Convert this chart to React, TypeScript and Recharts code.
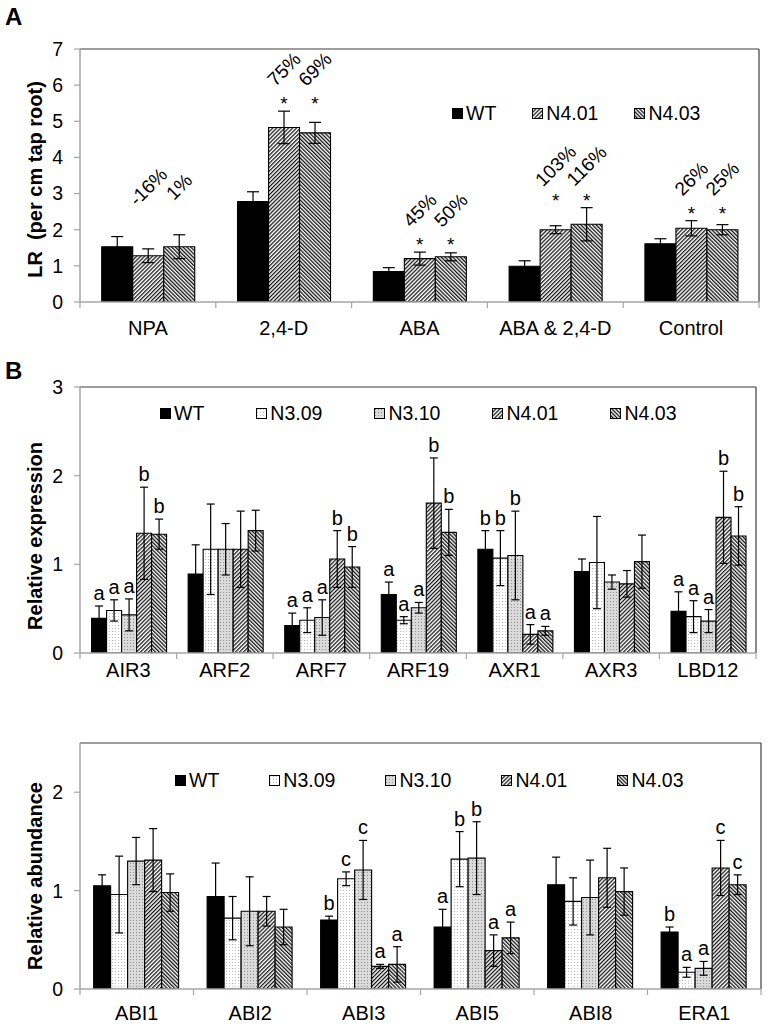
import React from "react";
import { BarChart, Bar, XAxis, YAxis, ErrorBar, LabelList, ReferenceLine, Legend } from "recharts";

const FONT = "'Liberation Sans', Arial, Helvetica, sans-serif";
const AXIS_GRAY = "#a6a6a6";
const FRAME = "#3c3c3c";

// ---------- Panel A: lateral roots ----------
const treatments = ["NPA", "2,4-D", "ABA", "ABA & 2,4-D", "Control"];
const lrWT = [1.53, 2.78, 0.84, 0.99, 1.61];
const lrWTErr = [0.28, 0.27, 0.11, 0.15, 0.14];
const lrN401 = [1.28, 4.83, 1.2, 2.0, 2.04];
const lrN401Err = [0.19, 0.45, 0.18, 0.11, 0.21];
const lrN403 = [1.53, 4.68, 1.25, 2.15, 2.0];
const lrN403Err = [0.33, 0.29, 0.11, 0.46, 0.14];
const pctN401 = ["-16%", "75%", "45%", "103%", "26%"];
const pctN403 = ["1%", "69%", "50%", "116%", "25%"];
const starN401 = ["", "*", "*", "*", "*"];
const starN403 = ["", "*", "*", "*", "*"];
const lrTicks = [0, 1, 2, 3, 4, 5, 6, 7];

// ---------- Panel B top: auxin genes ----------
const auxGenes = ["AIR3", "ARF2", "ARF7", "ARF19", "AXR1", "AXR3", "LBD12"];
const auxWT = [0.39, 0.89, 0.31, 0.66, 1.17, 0.92, 0.47];
const auxWTErr = [0.14, 0.33, 0.14, 0.14, 0.21, 0.14, 0.22];
const auxN309 = [0.48, 1.17, 0.37, 0.37, 1.07, 1.02, 0.41];
const auxN309Err = [0.12, 0.51, 0.14, 0.04, 0.31, 0.52, 0.18];
const auxN310 = [0.43, 1.17, 0.4, 0.51, 1.1, 0.8, 0.36];
const auxN310Err = [0.18, 0.29, 0.2, 0.06, 0.5, 0.08, 0.13];
const auxN401 = [1.35, 1.17, 1.06, 1.69, 0.21, 0.78, 1.53];
const auxN401Err = [0.52, 0.43, 0.32, 0.51, 0.11, 0.15, 0.52];
const auxN403 = [1.34, 1.38, 0.97, 1.36, 0.25, 1.03, 1.32];
const auxN403Err = [0.17, 0.23, 0.23, 0.26, 0.05, 0.3, 0.33];
const auxLetWT = ["a", "", "a", "a", "b", "", "a"];
const auxLetN309 = ["a", "", "a", "a", "b", "", "a"];
const auxLetN310 = ["a", "", "a", "a", "b", "", "a"];
const auxLetN401 = ["b", "", "b", "b", "a", "", "b"];
const auxLetN403 = ["b", "", "b", "b", "a", "", "b"];
const auxTicks = [0, 1, 2, 3];

// ---------- Panel B bottom: ABA genes ----------
const abaGenes = ["ABI1", "ABI2", "ABI3", "ABI5", "ABI8", "ERA1"];
const abaWT = [1.05, 0.94, 0.7, 0.63, 1.06, 0.58];
const abaWTErr = [0.11, 0.34, 0.04, 0.18, 0.28, 0.05];
const abaN309 = [0.96, 0.72, 1.12, 1.32, 0.89, 0.17];
const abaN309Err = [0.39, 0.22, 0.07, 0.28, 0.24, 0.05];
const abaN310 = [1.3, 0.79, 1.21, 1.33, 0.93, 0.21];
const abaN310Err = [0.24, 0.35, 0.3, 0.37, 0.38, 0.07];
const abaN401 = [1.31, 0.79, 0.23, 0.39, 1.13, 1.23];
const abaN401Err = [0.32, 0.15, 0.02, 0.16, 0.3, 0.28];
const abaN403 = [0.98, 0.63, 0.25, 0.52, 0.99, 1.06];
const abaN403Err = [0.19, 0.18, 0.18, 0.16, 0.24, 0.1];
const abaLetWT = ["", "", "b", "a", "", "b"];
const abaLetN309 = ["", "", "c", "b", "", "a"];
const abaLetN310 = ["", "", "c", "b", "", "a"];
const abaLetN401 = ["", "", "a", "a", "", "c"];
const abaLetN403 = ["", "", "a", "a", "", "c"];
const abaTicks = [0, 1, 2];

const FILL_WT = "#000";
const FILL_N309 = "url(#dotsLight)";
const FILL_N310 = "url(#dotsGray)";
const FILL_N401 = "url(#hatchFwd)";
const FILL_N403 = "url(#hatchBack)";

type Series = {
  key: string;
  name: string;
  fill: string;
  values: number[];
  errors: number[];
  letters?: string[];
  pct?: string[];
  stars?: string[];
  other?: Series;
};

const sWT_A: Series = { key: "wt", name: "WT", fill: FILL_WT, values: lrWT, errors: lrWTErr };
const sN403_A: Series = { key: "n403", name: "N4.03", fill: FILL_N403, values: lrN403, errors: lrN403Err, pct: pctN403, stars: starN403 };
const sN401_A: Series = { key: "n401", name: "N4.01", fill: FILL_N401, values: lrN401, errors: lrN401Err, pct: pctN401, stars: starN401 };
sN401_A.other = sN403_A;
sN403_A.other = sN401_A;
const seriesA = [sWT_A, sN401_A, sN403_A];

const seriesAux: Series[] = [
  { key: "wt", name: "WT", fill: FILL_WT, values: auxWT, errors: auxWTErr, letters: auxLetWT },
  { key: "n309", name: "N3.09", fill: FILL_N309, values: auxN309, errors: auxN309Err, letters: auxLetN309 },
  { key: "n310", name: "N3.10", fill: FILL_N310, values: auxN310, errors: auxN310Err, letters: auxLetN310 },
  { key: "n401", name: "N4.01", fill: FILL_N401, values: auxN401, errors: auxN401Err, letters: auxLetN401 },
  { key: "n403", name: "N4.03", fill: FILL_N403, values: auxN403, errors: auxN403Err, letters: auxLetN403 },
];

const seriesAba: Series[] = [
  { key: "wt", name: "WT", fill: FILL_WT, values: abaWT, errors: abaWTErr, letters: abaLetWT },
  { key: "n309", name: "N3.09", fill: FILL_N309, values: abaN309, errors: abaN309Err, letters: abaLetN309 },
  { key: "n310", name: "N3.10", fill: FILL_N310, values: abaN310, errors: abaN310Err, letters: abaLetN310 },
  { key: "n401", name: "N4.01", fill: FILL_N401, values: abaN401, errors: abaN401Err, letters: abaLetN401 },
  { key: "n403", name: "N4.03", fill: FILL_N403, values: abaN403, errors: abaN403Err, letters: abaLetN403 },
];

function buildRows(cats: string[], series: Series[]) {
  return cats.map((c, i) => {
    const r: any = { cat: c };
    series.forEach((s) => {
      r[s.key] = s.values[i];
      r[s.key + "Err"] = s.errors[i];
    });
    return r;
  });
}

function getBox(p: any) {
  const vb = p.viewBox && typeof p.viewBox.x === "number" && typeof p.viewBox.width === "number" ? p.viewBox : p;
  return { x: Number(vb.x), y: Number(vb.y), w: Number(vb.width), h: Number(vb.height) };
}

function letterLabel(s: Series, lp: any) {
  const i = lp.index;
  const letter = s.letters ? s.letters[i] : "";
  if (!letter) return null;
  const b = getBox(lp);
  const v = s.values[i];
  const e = s.errors[i];
  const ppu = b.h / v;
  const errTop = b.y + b.h - (v + e) * ppu;
  const cx = b.x + b.w / 2;
  return (
    <text x={cx} y={errTop - 6} textAnchor="middle" fontSize={20} fill="#000">
      {letter}
    </text>
  );
}

function annotLabel(s: Series, lp: any) {
  const i = lp.index;
  if (!s.pct || !s.other) return null;
  const b = getBox(lp);
  const v = s.values[i];
  const ppu = b.h / v;
  const base = b.y + b.h;
  const topMine = base - (v + s.errors[i]) * ppu;
  const o = s.other;
  const topOther = base - (o.values[i] + o.errors[i]) * ppu;
  const groupTop = Math.min(topMine, topOther);
  const cx = b.x + b.w / 2;
  const star = s.stars ? s.stars[i] : "";
  const starCenter = groupTop - 11;
  const pctY = star ? starCenter - 31 : groupTop - 48;
  return (
    <g>
      {star ? (
        <text x={cx} y={starCenter + 10} textAnchor="middle" fontSize={19} fill="#000">
          {star}
        </text>
      ) : null}
      <text
        x={cx}
        y={pctY}
        textAnchor="middle"
        dominantBaseline="central"
        transform={`rotate(-45 ${cx} ${pctY})`}
        fontSize={19}
        fill="#000"
      >
        {s.pct[i]}
      </text>
    </g>
  );
}

function CategoryTick(props: any) {
  const { x, y, payload, index, count, half, tickSize, tickMargin } = props;
  const off = payload && typeof payload.offset === "number" && payload.offset > 0 ? payload.offset : half;
  const axisY = y - tickSize - tickMargin;
  return (
    <g>
      <line x1={x - off} x2={x - off} y1={axisY} y2={axisY + tickSize} stroke={AXIS_GRAY} strokeWidth={1.2} />
      {index === count - 1 ? (
        <line x1={x + off} x2={x + off} y1={axisY} y2={axisY + tickSize} stroke={AXIS_GRAY} strokeWidth={1.2} />
      ) : null}
      <text x={x} y={y} dy="0.71em" textAnchor="middle" fontSize={20} fill="#000">
        {payload.value}
      </text>
    </g>
  );
}

function YTitle(props: any) {
  const vb = props.viewBox || { x: 20, y: 0, width: 60, height: 0 };
  const cx = vb.x + 15;
  const cy = vb.y + vb.height / 2 + (props.shift || 0);
  return (
    <text
      x={cx}
      y={cy}
      transform={`rotate(-90 ${cx} ${cy})`}
      textAnchor="middle"
      dominantBaseline="central"
      fontSize={20}
      fontWeight="bold"
      fill="#000"
      style={{ whiteSpace: "pre" }}
    >
      {props.text}
    </text>
  );
}

function LegendRow({ series, gap }: { series: Series[]; gap: number }) {
  return (
    <div
      style={{
        display: "flex",
        alignItems: "center",
        gap,
        fontSize: 19.5,
        lineHeight: "22px",
        whiteSpace: "nowrap",
        color: "#000",
        fontFamily: FONT,
      }}
    >
      {series.map((s) => (
        <div key={s.key} style={{ display: "flex", alignItems: "center" }}>
          <svg width={11} height={11} style={{ marginRight: 3, display: "block" }}>
            <rect x={0.5} y={0.5} width={10} height={10} fill={s.fill} stroke="#000" strokeWidth={1} />
          </svg>
          <span>{s.name}</span>
        </div>
      ))}
    </div>
  );
}

type PanelProps = {
  top: number;
  height: number;
  margin: { top: number; right: number; bottom: number; left: number };
  cats: string[];
  series: Series[];
  yMax: number;
  yTicks: number[];
  yLabel: string;
  yLabelShift: number;
  tickMargin: number;
  xAxisHeight: number;
  catGap: string;
  capHalf: number;
  legendLeft: number;
  legendTop: number;
  legendGap: number;
  renderLabel: (s: Series, lp: any) => any;
};

const Y_AXIS_W = 60;
const CHART_W = 767;

function Panel(p: PanelProps) {
  const rows = buildRows(p.cats, p.series);
  const plotW = CHART_W - p.margin.left - Y_AXIS_W - p.margin.right;
  const half = plotW / p.cats.length / 2;
  return (
    <div style={{ position: "absolute", left: 0, top: p.top }}>
      <BarChart width={CHART_W} height={p.height} data={rows} margin={p.margin} barCategoryGap={p.catGap} barGap={0}>
        <XAxis
          dataKey="cat"
          height={p.xAxisHeight}
          interval={0}
          axisLine={{ stroke: AXIS_GRAY, strokeWidth: 1.5 }}
          tickLine={false}
          tickSize={6}
          tickMargin={p.tickMargin}
          tick={(tp: any) => (
            <CategoryTick {...tp} count={p.cats.length} half={half} tickSize={6} tickMargin={p.tickMargin} />
          )}
        />
        <YAxis
          width={Y_AXIS_W}
          domain={[0, p.yMax]}
          ticks={p.yTicks}
          allowDataOverflow
          axisLine={{ stroke: AXIS_GRAY, strokeWidth: 1.5 }}
          tickLine={{ stroke: AXIS_GRAY, strokeWidth: 1.2 }}
          tickSize={6}
          tickMargin={11}
          tick={{ fontSize: 19.5, fill: "#000" }}
          label={(lp: any) => <YTitle {...lp} text={p.yLabel} shift={p.yLabelShift} />}
        />
        <ReferenceLine y={p.yMax} stroke={FRAME} strokeWidth={1.2} />
        <ReferenceLine x={p.cats[p.cats.length - 1]} position="end" stroke={FRAME} strokeWidth={1.2} />
        <Legend
          layout="horizontal"
          verticalAlign="middle"
          align="center"
          wrapperStyle={{ left: p.legendLeft, top: p.legendTop, width: "auto", margin: 0, padding: 0 }}
          content={() => <LegendRow series={p.series} gap={p.legendGap} />}
        />
        {p.series.map((s) => (
          <Bar
            key={s.key}
            dataKey={s.key}
            name={s.name}
            fill={s.fill}
            stroke="#000"
            strokeWidth={1.1}
            isAnimationActive={false}
          >
            <ErrorBar dataKey={s.key + "Err"} width={p.capHalf} stroke="#000" strokeWidth={1.2} direction="y" />
            <LabelList dataKey={s.key} content={(lp: any) => p.renderLabel(s, lp)} />
          </Bar>
        ))}
      </BarChart>
    </div>
  );
}

function PatternDefs() {
  return (
    <svg width={0} height={0} style={{ position: "absolute", left: 0, top: 0 }} aria-hidden="true">
      <defs>
        <pattern id="hatchFwd" patternUnits="userSpaceOnUse" width={2.8} height={2.8} patternTransform="rotate(45)">
          <rect width={2.8} height={2.8} fill="#fff" />
          <rect x={0} y={0} width={1.25} height={2.8} fill="#111" />
        </pattern>
        <pattern id="hatchBack" patternUnits="userSpaceOnUse" width={2.7} height={2.7} patternTransform="rotate(-45)">
          <rect width={2.7} height={2.7} fill="#fff" />
          <rect x={0} y={0} width={1.3} height={2.7} fill="#111" />
        </pattern>
        <pattern id="dotsLight" patternUnits="userSpaceOnUse" width={3} height={3}>
          <rect width={3} height={3} fill="#fff" />
          <rect x={1} y={1} width={1} height={1} fill="#bdbdbd" />
        </pattern>
        <pattern id="dotsGray" patternUnits="userSpaceOnUse" width={3} height={3}>
          <rect width={3} height={3} fill="#dadada" />
          <rect x={1} y={1} width={1} height={1} fill="#8f8f8f" />
        </pattern>
      </defs>
    </svg>
  );
}

export default function App() {
  return (
    <div
      style={{
        position: "absolute",
        left: 0,
        top: 0,
        width: 767,
        height: 1026,
        background: "#fff",
        fontFamily: FONT,
        overflow: "hidden",
      }}
    >
      <PatternDefs />
      <div style={{ position: "absolute", left: 5, top: 5, fontSize: 24, fontWeight: "bold", lineHeight: "24px" }}>A</div>
      <div style={{ position: "absolute", left: 5, top: 359, fontSize: 24, fontWeight: "bold", lineHeight: "24px" }}>B</div>

      <Panel
        top={0}
        height={350}
        margin={{ top: 49, right: 8, bottom: 8, left: 20 }}
        cats={treatments}
        series={seriesA}
        yMax={7}
        yTicks={lrTicks}
        yLabel="LR  (per cm tap root)"
        yLabelShift={4}
        tickMargin={13}
        xAxisHeight={40}
        catGap="16%"
        capHalf={6}
        legendLeft={452}
        legendTop={102}
        legendGap={36}
        renderLabel={annotLabel}
      />

      <Panel
        top={360}
        height={330}
        margin={{ top: 27, right: 11, bottom: 7, left: 20 }}
        cats={auxGenes}
        series={seriesAux}
        yMax={3}
        yTicks={auxTicks}
        yLabel="Relative expression"
        yLabelShift={16}
        tickMargin={4}
        xAxisHeight={30}
        catGap="12%"
        capHalf={4}
        legendLeft={160}
        legendTop={42}
        legendGap={52}
        renderLabel={letterLabel}
      />

      <Panel
        top={700}
        height={326}
        margin={{ top: 43, right: 6, bottom: 7, left: 20 }}
        cats={abaGenes}
        series={seriesAba}
        yMax={2.5}
        yTicks={abaTicks}
        yLabel="Relative abundance"
        yLabelShift={10}
        tickMargin={11}
        xAxisHeight={30}
        catGap="12%"
        capHalf={4}
        legendLeft={175}
        legendTop={69}
        legendGap={50}
        renderLabel={letterLabel}
      />
    </div>
  );
}
